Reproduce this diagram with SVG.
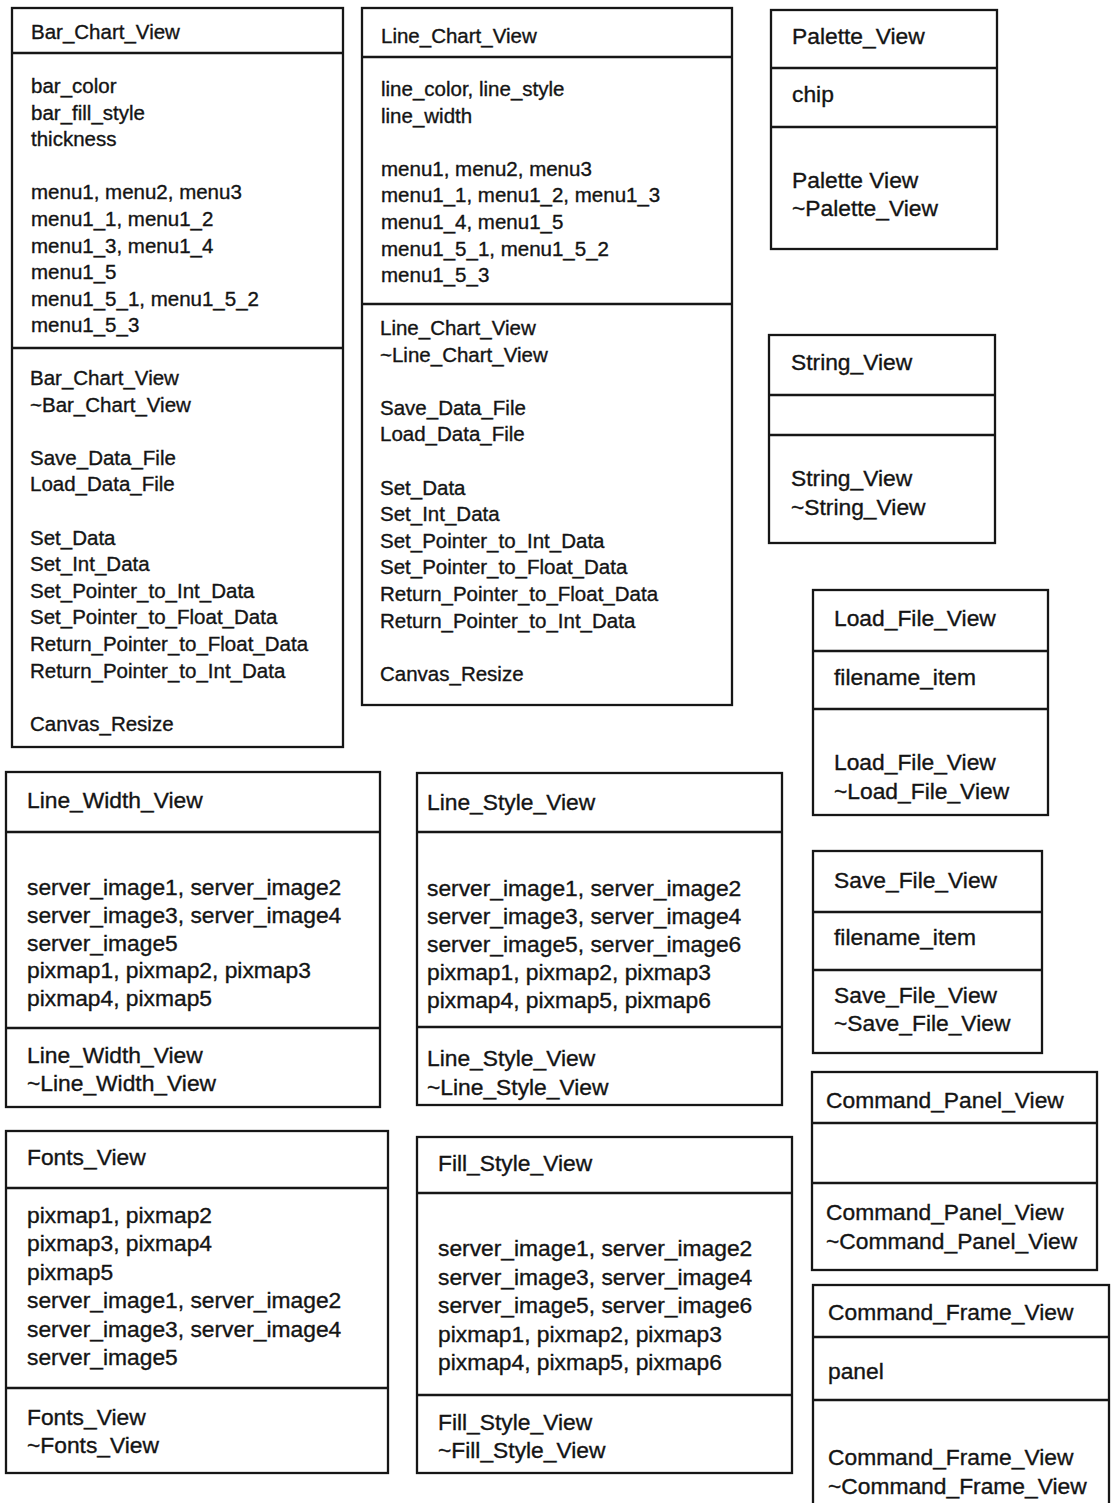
<svg xmlns="http://www.w3.org/2000/svg" width="1111" height="1503" viewBox="0 0 1111 1503">
<style>
.box{fill:#fff;stroke:#161616;stroke-width:2.3}
.div{stroke:#161616;stroke-width:2.3}
text{font-family:"Liberation Sans",Arial,sans-serif;fill:#141414;stroke:#141414;stroke-width:0.35}
.s{font-size:20.5px}
.l{font-size:22.8px}
</style>
<rect width="1111" height="1503" fill="#fff"/>
<g id="bar_chart_view" class="s">
<rect class="box" x="12" y="8" width="331" height="739"/>
<line class="div" x1="12" y1="53" x2="343" y2="53"/>
<line class="div" x1="12" y1="348" x2="343" y2="348"/>
<text x="31" y="39">Bar_Chart_View</text>
<text x="31" y="93">bar_color</text>
<text x="31" y="119.6">bar_fill_style</text>
<text x="31" y="146.2">thickness</text>
<text x="31" y="199.4">menu1, menu2, menu3</text>
<text x="31" y="226">menu1_1, menu1_2</text>
<text x="31" y="252.6">menu1_3, menu1_4</text>
<text x="31" y="279.2">menu1_5</text>
<text x="31" y="305.8">menu1_5_1, menu1_5_2</text>
<text x="31" y="332.4">menu1_5_3</text>
<text x="30" y="385">Bar_Chart_View</text>
<text x="30" y="411.6">~Bar_Chart_View</text>
<text x="30" y="464.8">Save_Data_File</text>
<text x="30" y="491.4">Load_Data_File</text>
<text x="30" y="544.6">Set_Data</text>
<text x="30" y="571.2">Set_Int_Data</text>
<text x="30" y="597.8">Set_Pointer_to_Int_Data</text>
<text x="30" y="624.4">Set_Pointer_to_Float_Data</text>
<text x="30" y="651">Return_Pointer_to_Float_Data</text>
<text x="30" y="677.6">Return_Pointer_to_Int_Data</text>
<text x="30" y="730.8">Canvas_Resize</text>
</g>
<g id="line_chart_view" class="s">
<rect class="box" x="362" y="8" width="370" height="697"/>
<line class="div" x1="362" y1="57" x2="732" y2="57"/>
<line class="div" x1="362" y1="304" x2="732" y2="304"/>
<text x="381" y="43">Line_Chart_View</text>
<text x="381" y="96">line_color, line_style</text>
<text x="381" y="122.6">line_width</text>
<text x="381" y="175.8">menu1, menu2, menu3</text>
<text x="381" y="202.4">menu1_1, menu1_2, menu1_3</text>
<text x="381" y="229">menu1_4, menu1_5</text>
<text x="381" y="255.6">menu1_5_1, menu1_5_2</text>
<text x="381" y="282.2">menu1_5_3</text>
<text x="380" y="335">Line_Chart_View</text>
<text x="380" y="361.6">~Line_Chart_View</text>
<text x="380" y="414.8">Save_Data_File</text>
<text x="380" y="441.4">Load_Data_File</text>
<text x="380" y="494.6">Set_Data</text>
<text x="380" y="521.2">Set_Int_Data</text>
<text x="380" y="547.8">Set_Pointer_to_Int_Data</text>
<text x="380" y="574.4">Set_Pointer_to_Float_Data</text>
<text x="380" y="601">Return_Pointer_to_Float_Data</text>
<text x="380" y="627.6">Return_Pointer_to_Int_Data</text>
<text x="380" y="680.8">Canvas_Resize</text>
</g>
<g id="palette_view" class="l">
<rect class="box" x="771" y="10" width="226" height="239"/>
<line class="div" x1="771" y1="68" x2="997" y2="68"/>
<line class="div" x1="771" y1="127" x2="997" y2="127"/>
<text x="792" y="44">Palette_View</text>
<text x="792" y="102">chip</text>
<text x="792" y="188">Palette View</text>
<text x="792" y="216">~Palette_View</text>
</g>
<g id="string_view" class="l">
<rect class="box" x="769" y="335" width="226" height="208"/>
<line class="div" x1="769" y1="395" x2="995" y2="395"/>
<line class="div" x1="769" y1="435" x2="995" y2="435"/>
<text x="791" y="370">String_View</text>
<text x="791" y="486">String_View</text>
<text x="791" y="515">~String_View</text>
</g>
<g id="load_file_view" class="l">
<rect class="box" x="813" y="590" width="235" height="225"/>
<line class="div" x1="813" y1="651" x2="1048" y2="651"/>
<line class="div" x1="813" y1="709" x2="1048" y2="709"/>
<text x="834" y="626">Load_File_View</text>
<text x="834" y="685">filename_item</text>
<text x="834" y="770">Load_File_View</text>
<text x="834" y="799">~Load_File_View</text>
</g>
<g id="save_file_view" class="l">
<rect class="box" x="813" y="851" width="229" height="202"/>
<line class="div" x1="813" y1="912" x2="1042" y2="912"/>
<line class="div" x1="813" y1="970" x2="1042" y2="970"/>
<text x="834" y="888">Save_File_View</text>
<text x="834" y="945">filename_item</text>
<text x="834" y="1003">Save_File_View</text>
<text x="834" y="1031">~Save_File_View</text>
</g>
<g id="command_panel_view" class="l">
<rect class="box" x="812" y="1072" width="285" height="198"/>
<line class="div" x1="812" y1="1123" x2="1097" y2="1123"/>
<line class="div" x1="812" y1="1183" x2="1097" y2="1183"/>
<text x="826" y="1108">Command_Panel_View</text>
<text x="826" y="1220">Command_Panel_View</text>
<text x="826" y="1249">~Command_Panel_View</text>
</g>
<g id="command_frame_view" class="l">
<rect class="box" x="813" y="1285" width="296" height="240"/>
<line class="div" x1="813" y1="1337" x2="1109" y2="1337"/>
<line class="div" x1="813" y1="1400" x2="1109" y2="1400"/>
<text x="828" y="1320">Command_Frame_View</text>
<text x="828" y="1379">panel</text>
<text x="828" y="1465">Command_Frame_View</text>
<text x="828" y="1494">~Command_Frame_View</text>
</g>
<g id="line_width_view" class="l">
<rect class="box" x="6" y="772" width="374" height="335"/>
<line class="div" x1="6" y1="832" x2="380" y2="832"/>
<line class="div" x1="6" y1="1028" x2="380" y2="1028"/>
<text x="27" y="808">Line_Width_View</text>
<text x="27" y="895">server_image1, server_image2</text>
<text x="27" y="923">server_image3, server_image4</text>
<text x="27" y="951">server_image5</text>
<text x="27" y="978">pixmap1, pixmap2, pixmap3</text>
<text x="27" y="1006">pixmap4, pixmap5</text>
<text x="27" y="1063">Line_Width_View</text>
<text x="27" y="1091">~Line_Width_View</text>
</g>
<g id="line_style_view" class="l">
<rect class="box" x="417" y="773" width="365" height="332"/>
<line class="div" x1="417" y1="832" x2="782" y2="832"/>
<line class="div" x1="417" y1="1027" x2="782" y2="1027"/>
<text x="427" y="810">Line_Style_View</text>
<text x="427" y="896">server_image1, server_image2</text>
<text x="427" y="924">server_image3, server_image4</text>
<text x="427" y="952">server_image5, server_image6</text>
<text x="427" y="980">pixmap1, pixmap2, pixmap3</text>
<text x="427" y="1008">pixmap4, pixmap5, pixmap6</text>
<text x="427" y="1066">Line_Style_View</text>
<text x="427" y="1095">~Line_Style_View</text>
</g>
<g id="fonts_view" class="l">
<rect class="box" x="6" y="1131" width="382" height="342"/>
<line class="div" x1="6" y1="1188" x2="388" y2="1188"/>
<line class="div" x1="6" y1="1388" x2="388" y2="1388"/>
<text x="27" y="1165">Fonts_View</text>
<text x="27" y="1223">pixmap1, pixmap2</text>
<text x="27" y="1251.4">pixmap3, pixmap4</text>
<text x="27" y="1279.8">pixmap5</text>
<text x="27" y="1308.2">server_image1, server_image2</text>
<text x="27" y="1336.6">server_image3, server_image4</text>
<text x="27" y="1365">server_image5</text>
<text x="27" y="1425">Fonts_View</text>
<text x="27" y="1453">~Fonts_View</text>
</g>
<g id="fill_style_view" class="l">
<rect class="box" x="417" y="1137" width="375" height="336"/>
<line class="div" x1="417" y1="1193" x2="792" y2="1193"/>
<line class="div" x1="417" y1="1395" x2="792" y2="1395"/>
<text x="438" y="1171">Fill_Style_View</text>
<text x="438" y="1256">server_image1, server_image2</text>
<text x="438" y="1284.5">server_image3, server_image4</text>
<text x="438" y="1313">server_image5, server_image6</text>
<text x="438" y="1341.5">pixmap1, pixmap2, pixmap3</text>
<text x="438" y="1370">pixmap4, pixmap5, pixmap6</text>
<text x="438" y="1430">Fill_Style_View</text>
<text x="438" y="1458">~Fill_Style_View</text>
</g>
<g id="connectors"></g>
</svg>
